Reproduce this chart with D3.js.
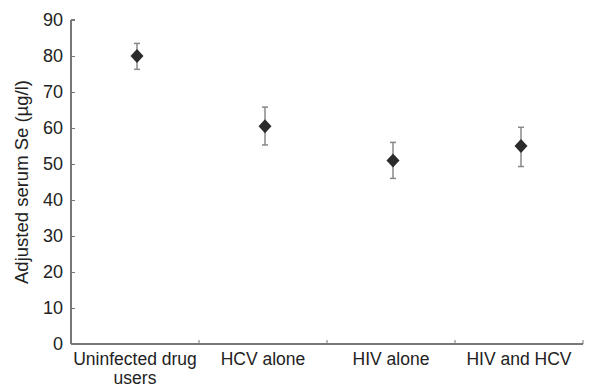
<!DOCTYPE html>
<html>
<head>
<meta charset="utf-8">
<script src="https://cdn.jsdelivr.net/npm/d3@7"></script>
<style>
  body { margin: 0; background: #fff; }
  text { font-family: "Liberation Sans", Arial, sans-serif; fill: #222; }
</style>
</head>
<body>
<div id="chart"></div>
<script>
const groups = ["Uninfected drug users", "HCV alone", "HIV alone", "HIV and HCV"];
const means = [80, 60.5, 51, 55];
const lower = [76.3, 55.3, 46, 49.3];
const upper = [83.5, 65.8, 56, 60.2];
const yTicks = [0, 10, 20, 30, 40, 50, 60, 70, 80, 90];

const width = 600, height = 389;
const margin = { top: 20, right: 17, bottom: 45, left: 71 };

const svg = d3.select("#chart").append("svg")
  .attr("width", width).attr("height", height);

const x = d3.scaleBand().domain(groups)
  .range([margin.left, width - margin.right]);
const y = d3.scaleLinear().domain([0, 90])
  .range([height - margin.bottom, margin.top]);

const axisColor = "#777";

// y axis, ticks point inward
const yAxis = svg.append("g")
  .attr("transform", `translate(${margin.left},0)`)
  .call(d3.axisRight(y).tickValues(yTicks).tickSize(4).tickFormat(d3.format("d")));
yAxis.select(".domain").attr("stroke", axisColor).attr("stroke-width", 2)
  .attr("d", `M0,${y(90)}H4M0,${y(90)}V${y(0)}`);
yAxis.selectAll(".tick line").attr("stroke", axisColor);
yAxis.selectAll(".tick text")
  .attr("x", -8).attr("text-anchor", "end")
  .style("font-size", "18px");

// x axis with boundary ticks
const xg = svg.append("g");
xg.append("line")
  .attr("x1", margin.left).attr("x2", width - margin.right)
  .attr("y1", y(0)).attr("y2", y(0))
  .attr("stroke", axisColor).attr("stroke-width", 2);
xg.selectAll(".bt").data(groups.slice(1).concat(["end"]))
  .enter().append("line")
  .attr("x1", (d, i) => i < 3 ? x(d) : width - margin.right)
  .attr("x2", (d, i) => i < 3 ? x(d) : width - margin.right)
  .attr("y1", y(0)).attr("y2", y(0) - 4)
  .attr("stroke", axisColor);

const labels = xg.selectAll(".xl").data(groups).enter().append("text")
  .attr("x", d => x(d) + x.bandwidth() / 2)
  .attr("y", y(0) + 21)
  .attr("text-anchor", "middle")
  .style("font-size", "17.5px");
labels.each(function (d) {
  const t = d3.select(this);
  if (d === "Uninfected drug users") {
    t.append("tspan").attr("x", x(d) + x.bandwidth() / 2).text("Uninfected drug");
    t.append("tspan").attr("x", x(d) + x.bandwidth() / 2).attr("dy", 19).text("users");
  } else {
    t.text(d);
  }
});

// y label
svg.append("text")
  .attr("transform", `translate(28,${(y(0) + y(90)) / 2}) rotate(-90)`)
  .attr("text-anchor", "middle")
  .style("font-size", "18.5px")
  .text("Adjusted serum Se (\u00b5g/l)");

// error bars
const cx = d => x(d) + x.bandwidth() / 2 + 2;
const eb = svg.append("g").selectAll("g").data(groups).enter().append("g");
eb.append("line")
  .attr("x1", cx).attr("x2", cx)
  .attr("y1", (d, i) => y(lower[i])).attr("y2", (d, i) => y(upper[i]))
  .attr("stroke", "#888").attr("stroke-width", 1.5);
eb.append("line")
  .attr("x1", d => cx(d) - 3).attr("x2", d => cx(d) + 3)
  .attr("y1", (d, i) => y(upper[i])).attr("y2", (d, i) => y(upper[i]))
  .attr("stroke", "#888").attr("stroke-width", 1.5);
eb.append("line")
  .attr("x1", d => cx(d) - 3).attr("x2", d => cx(d) + 3)
  .attr("y1", (d, i) => y(lower[i])).attr("y2", (d, i) => y(lower[i]))
  .attr("stroke", "#888").attr("stroke-width", 1.5);

// diamonds
eb.append("path")
  .attr("transform", (d, i) => `translate(${cx(d)},${y(means[i])})`)
  .attr("d", "M0,-7L6.5,0L0,7L-6.5,0Z")
  .attr("fill", "#2b2b2b");
</script>
</body>
</html>
